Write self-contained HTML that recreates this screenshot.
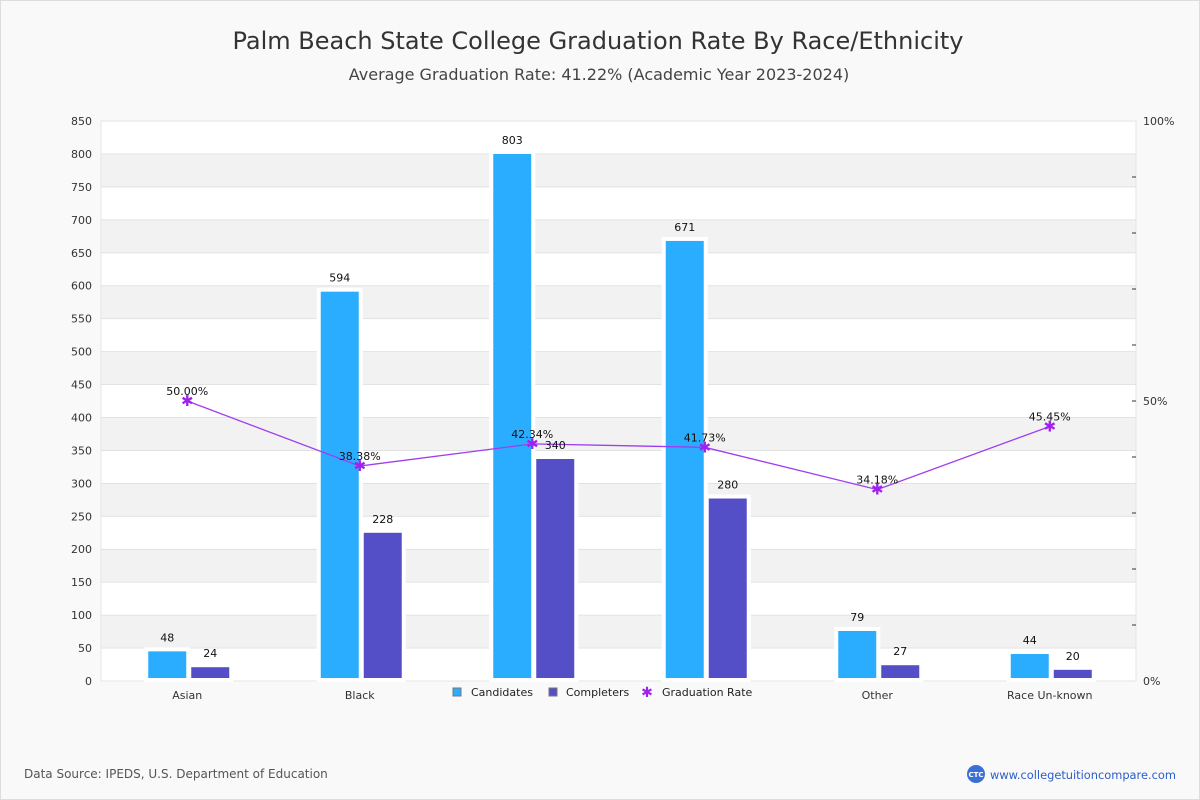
<!DOCTYPE html>
<html><head><meta charset="utf-8"><style>
body{margin:0;background:#fff;font-family:"Liberation Sans","DejaVu Sans",sans-serif}
#wrap{position:relative;width:1198px;height:798px;border:1px solid #ddd;background:#f9f9f9}
</style></head><body>
<div id="wrap">
<svg id="chart" width="1198" height="798" viewBox="0 0 1198 798" style="position:absolute;left:0;top:0" font-family="DejaVu Sans, Liberation Sans, sans-serif">
<text x="597" y="48" text-anchor="middle" font-size="24" fill="#333">Palm Beach State College Graduation Rate By Race/Ethnicity</text>
<text x="598" y="79" text-anchor="middle" font-size="16" fill="#444">Average Graduation Rate: 41.22% (Academic Year 2023-2024)</text>
<g id="grid"></g><g id="bars"></g><g id="line"></g><g id="labels"></g>
<rect x="446" y="681" width="310" height="20" fill="#f9f9f9"/>
<g font-size="11" fill="#222">
<rect x="452" y="687" width="8" height="8" fill="#2badff" stroke="#777"/>
<text x="470" y="695">Candidates</text>
<rect x="548" y="687" width="8" height="8" fill="#554fc7" stroke="#777"/>
<text x="565" y="695">Completers</text>
<text x="646" y="696" text-anchor="middle" fill="#a020f0" font-size="14">✱</text>
<text x="661" y="695">Graduation Rate</text>
</g>
<text x="23" y="777" font-size="12" fill="#555">Data Source: IPEDS, U.S. Department of Education</text>
<circle cx="975" cy="773" r="9" fill="#3a6fd8"/>
<text x="975" y="776" text-anchor="middle" font-size="7" fill="#fff" font-weight="bold">CTC</text>
<text x="989" y="778" font-size="11.4" fill="#2b5dc8">www.collegetuitioncompare.com</text>
</svg>
</div>
<script>
const categories=["Asian","Black","Hispanic","White","Other","Race Un-known"];
const candidates=[48,594,803,671,79,44];
const completers=[24,228,340,280,27,20];
const rates=[50.00,38.38,42.34,41.73,34.18,45.45];
const leftTicks=[0,50,100,150,200,250,300,350,400,450,500,550,600,650,700,750,800,850];
const NS="http://www.w3.org/2000/svg";
const X0=100,X1=1135,Y0=680,Y1=120;
const yL=v=>Y0-(v/850)*(Y0-Y1);
const yR=p=>Y0-(p/100)*(Y0-Y1);
const band=(X1-X0)/categories.length;
const xC=i=>X0+band*(i+0.5);
function mk(tag,attrs,parent){const e=document.createElementNS(NS,tag);for(const k in attrs)e.setAttribute(k,attrs[k]);document.getElementById(parent).appendChild(e);return e;}
for(let i=0;i<leftTicks.length-1;i++){
  const a=yL(leftTicks[i+1]),b=yL(leftTicks[i]);
  const r=mk('rect',{x:X0,y:a,width:X1-X0,height:b-a,fill:i%2?'#f2f2f2':'#fff',stroke:'#e0e0e0','stroke-width':0.8},'grid');
  
  
}
leftTicks.forEach(t=>{
  const tx=mk('text',{x:91,y:yL(t)+4,'text-anchor':'end','font-size':11,fill:'#333'},'grid');tx.textContent=t;
  
  
});
for(let p=10;p<100;p+=10){mk('line',{x1:1131,x2:1135,y1:yR(p),y2:yR(p),stroke:'#333'},'grid');}
[[0,'0%'],[50,'50%'],[100,'100%']].forEach(([p,l])=>{
  const tx=mk('text',{x:1142,y:yR(p)+4,'font-size':11,fill:'#333'},'grid');tx.textContent=l;
  
  
});
const bw=42;
categories.forEach((c,i)=>{
  const cx=xC(i);
  const xa=cx-41,xb=cx+2;
  const r1=mk('rect',{x:xa,y:yL(candidates[i]),width:bw,height:Y0-1-yL(candidates[i]),fill:'#2badff',stroke:'#fff','stroke-width':4},'bars');
  
  
  const r2=mk('rect',{x:xb,y:yL(completers[i]),width:bw,height:Y0-1-yL(completers[i]),fill:'#554fc7',stroke:'#fff','stroke-width':4},'bars');
  
  
  const l1=mk('text',{x:xa+bw/2,y:yL(candidates[i])-8,'text-anchor':'middle','font-size':11,fill:'#111'},'labels');l1.textContent=candidates[i];
  
  
  const l2=mk('text',{x:xb+bw/2,y:yL(completers[i])-8,'text-anchor':'middle','font-size':11,fill:'#111'},'labels');l2.textContent=completers[i];
  
  
  const cl=mk('text',{x:cx,y:698,'text-anchor':'middle','font-size':11,fill:'#333'},'grid');cl.textContent=c;
  
  
});
const pts=rates.map((r,i)=>xC(i)+','+yR(r)).join(' ');
const pl=mk('polyline',{points:pts,fill:'none',stroke:'#a03cf0','stroke-width':1.3},'line');


rates.forEach((r,i)=>{
  const m=mk('text',{x:xC(i),y:yR(r)+5,'text-anchor':'middle','font-size':15,fill:'#a020f0'},'line');m.textContent='✱';
  
  
  const t=mk('text',{x:xC(i),y:yR(r)-6,'text-anchor':'middle','font-size':11,fill:'#111'},'labels');t.textContent=r.toFixed(2)+'%';
  
  
});
</script>
</body></html>
